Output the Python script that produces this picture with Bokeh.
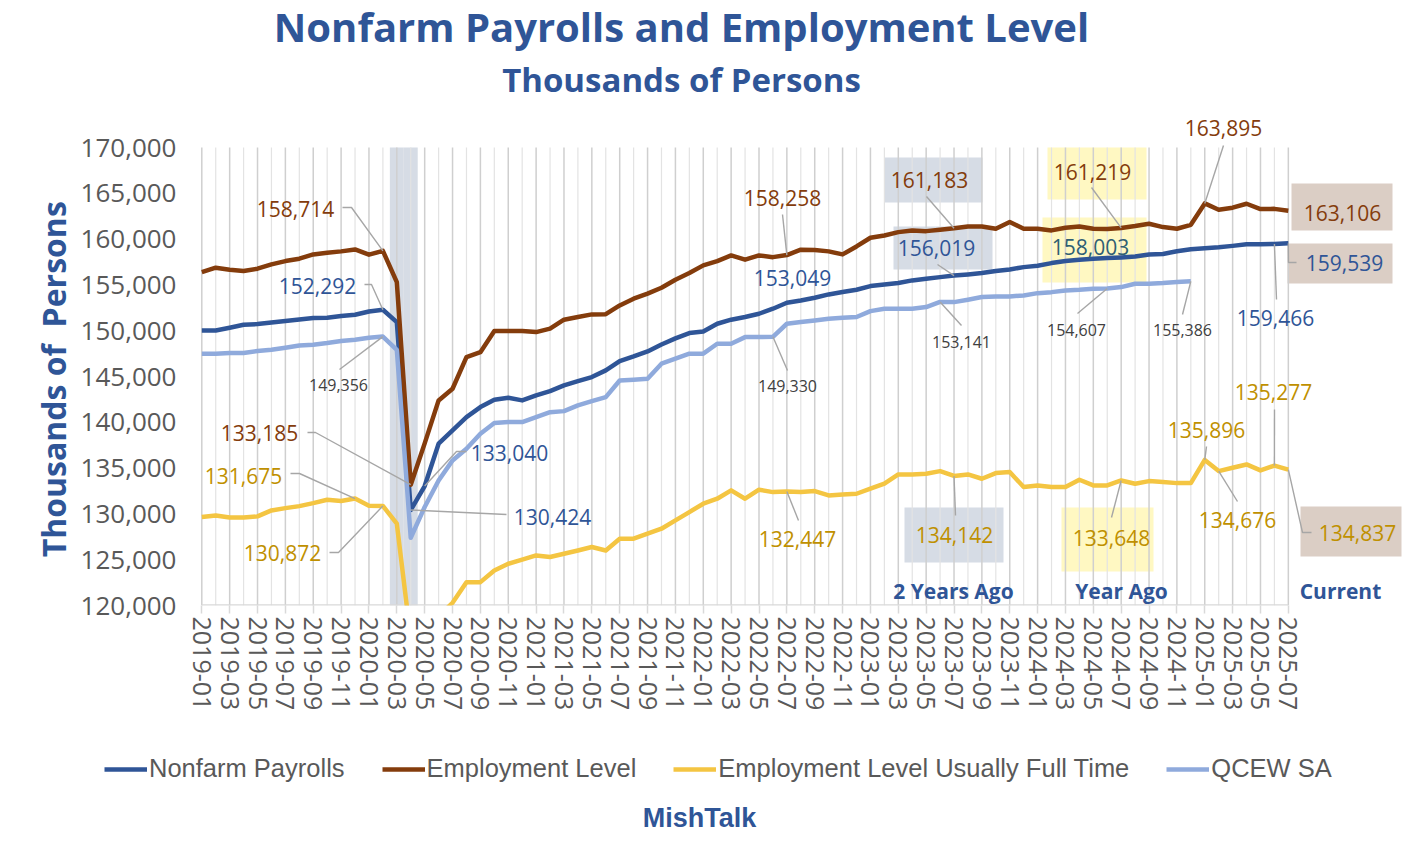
import numpy as np
from bokeh.plotting import figure
from bokeh.layouts import column, row
from bokeh.models import (ColumnDataSource, FixedTicker, NumeralTickFormatter,
                          Legend, LegendItem, Range1d)
from bokeh.core.properties import value
from bokeh.embed import file_html
from bokeh.resources import INLINE

# ---------------- data (thousands of persons) ----------------
months = [f"{y}-{m:02d}" for y in range(2019, 2026) for m in range(1, 13)][:79]

nonfarm = [150030, 150030, 150325, 150655, 150720, 150900, 151050, 151230, 151380, 151410,
           151600, 151740, 152100, 152292, 150940, 130424, 133040, 137660, 139110, 140570,
           141660, 142460, 142680, 142390, 142935, 143410, 144030, 144500, 144940, 145670,
           146680, 147190, 147740, 148500, 149160, 149740, 149920, 150760, 151200, 151490,
           151850, 152400, 153049, 153300, 153600, 153960, 154220, 154470, 154870, 155050,
           155200, 155490, 155670, 155850, 156019, 156145, 156290, 156510, 156690, 156940,
           157090, 157380, 157600, 157750, 157850, 157930, 158003, 158090, 158310, 158380,
           158670, 158890, 159000, 159110, 159260, 159430, 159440, 159466, 159539]

employment = [156400, 156880, 156660, 156510, 156770, 157240, 157600, 157860, 158330, 158510,
              158660, 158870, 158300, 158714, 155310, 133185, 137700, 142390, 143660, 147120,
              147660, 149960, 149960, 149960, 149850, 150220, 151200, 151490, 151780, 151800,
              152760, 153490, 154040, 154690, 155560, 156290, 157130, 157600, 158220, 157750,
              158220, 158030, 158258, 158840, 158800, 158660, 158330, 159200, 160150, 160400,
              160760, 160950, 160870, 161020, 161183, 161380, 161380, 161130, 161860, 161130,
              161130, 160950, 161240, 161380, 161130, 161090, 161219, 161420, 161680, 161310,
              161130, 161560, 163895, 163210, 163430, 163860, 163280, 163300, 163106]

full_time = [129650, 129830, 129600, 129600, 129730, 130380, 130630, 130850, 131180, 131550,
             131400, 131675, 130900, 130872, 128930, 116400, 117500, 118800, 120300, 122550,
             122550, 123830, 124560, 125000, 125470, 125290, 125650, 126010, 126380, 126010,
             127290, 127290, 127840, 128380, 129290, 130200, 131110, 131660, 132570, 131660,
             132640, 132380, 132447, 132380, 132490, 132020, 132130, 132200, 132750, 133300,
             134310, 134310, 134390, 134670, 134142, 134310, 133840, 134460, 134570, 132930,
             133110, 132930, 132930, 133730, 133110, 133110, 133648, 133290, 133580, 133470,
             133360, 133360, 135896, 134676, 135040, 135400, 134750, 135277, 134837]

qcew_sa = [147490, 147490, 147560, 147560, 147780, 147920, 148140, 148390, 148470, 148650,
           148870, 149010, 149230, 149356, 147900, 127400, 130750, 133650, 135840, 137120,
           138750, 139920, 140030, 140030, 140570, 141110, 141220, 141840, 142310, 142750,
           144570, 144650, 144760, 146400, 146940, 147490, 147490, 148580, 148580, 149300,
           149300, 149330, 150760, 150940, 151120, 151300, 151410, 151490, 152140, 152400,
           152400, 152400, 152580, 153141, 153120, 153380, 153670, 153740, 153740, 153850,
           154100, 154210, 154400, 154470, 154580, 154607, 154760, 155130, 155130, 155200,
           155310, 155386] + [np.nan] * 7

recession_months = ["2020-03", "2020-04"]
y_ticks = [120000, 125000, 130000, 135000, 140000, 145000, 150000, 155000, 160000, 165000, 170000]
series_names = ["Nonfarm Payrolls", "Employment Level", "Employment Level Usually Full Time", "QCEW SA"]

series = {"nfp": nonfarm, "emp": employment, "ft": full_time, "qc": qcew_sa}
idx = list(range(len(months)))

# ---------------- styling ----------------
BLUE = "#2F5597"
BROWN = "#843C0C"
GOLD_LINE = "#F4C542"
LIGHT = "#8FAADC"
LINE_COLORS = [BLUE, BROWN, GOLD_LINE, LIGHT]
BROWN_T = "#843C0C"
BLUE_T = "#2F5597"
TEAL_T = "#2F5F74"
GOLD_T = "#BF9000"
GRAY_T = "#404040"
LEAD = "#A6A6A6"
FONT = "Open Sans"
W = 1411

# page-pixel -> data helpers (layout of annotations only)
PX0, PXS = 202.3, 13.93
def dx(px):
    return (px - PX0) / PXS
def dy(py):
    return 170000 - (py - 148) * 50000 / 458

def blank(height, x0, x1, y0, y1, left, right):
    f = figure(width=W, height=height, output_backend="svg", toolbar_location=None,
               x_range=Range1d(x0, x1), y_range=Range1d(y1, y0),
               x_axis_location=None, y_axis_location=None,
               min_border=0, min_border_left=left, min_border_right=right,
               min_border_top=0, min_border_bottom=0)
    f.outline_line_color = None
    f.grid.visible = False
    return f

# ---------------- header ----------------
head = blank(110, 198, 1408, 1, 111, 197, 4)
head.text(x=[682, 682], y=[27, 80],
          text=["Nonfarm Payrolls and Employment Level", "Thousands of Persons"],
          text_font_size=["40px", "33px"], text_color=BLUE, text_font=value(FONT),
          text_font_style="bold", text_align="center", text_baseline="middle")

# ---------------- main chart ----------------
p = figure(width=W, height=607, output_backend="svg", toolbar_location=None,
           x_range=Range1d(dx(198), dx(1408)), y_range=Range1d(120000, dy(112)),
           min_border_left=197, min_border_right=4, min_border_top=1, min_border_bottom=112)
p.outline_line_color = None
p.xgrid.visible = False
p.ygrid.visible = False

rec_x = [months.index(m) for m in recession_months]
p.vbar(x=rec_x, width=1, bottom=120000, top=170000, fill_color="#D6DCE5", line_color=None)

# highlight boxes (2 years ago / year ago / current)
boxes = [(885, 983, 158, 203, "#D6DCE5"), (894, 993, 227, 270, "#D6DCE5"),
         (905, 1004, 508, 563, "#D6DCE5"),
         (1048, 1147, 148, 200, "#FFF8C2"), (1043, 1147, 218, 283, "#FFF8C2"),
         (1062, 1154, 508, 572, "#FFF8C2"),
         (1292, 1393, 184, 231, "#DBCEC5"), (1288, 1393, 244, 284, "#DBCEC5"),
         (1301, 1402, 507, 557, "#DBCEC5")]
p.quad(left=[dx(b[0]) for b in boxes], right=[dx(b[1]) for b in boxes],
       top=[dy(b[2]) for b in boxes], bottom=[dy(b[3]) for b in boxes],
       fill_color=[b[4] for b in boxes], line_color=None)

major = idx[::2]
minor = idx[1::2]
p.segment(x0=major, y0=[120000] * len(major), x1=major, y1=[170000] * len(major),
          line_color="#CFCFCF", line_width=1.5)
p.segment(x0=minor, y0=[120000] * len(minor), x1=minor, y1=[170000] * len(minor),
          line_color="#E3E3E3", line_width=1.2)
p.segment(x0=[idx[0]], y0=[120000], x1=[idx[-1]], y1=[120000], line_color="#D9D9D9", line_width=2.5)

src = ColumnDataSource(dict(x=idx, nfp=nonfarm, emp=employment, ft=full_time, qc=qcew_sa))
for col, colr in zip(["nfp", "emp", "ft", "qc"], LINE_COLORS):
    p.line("x", col, source=src, line_color=colr, line_width=4.5, line_join="round")

ann = [
    ("158,714", 296, 209, BROWN_T, 21, "emp", 13, [(343, 208), (352, 208)]),
    ("152,292", 318, 286, BLUE_T, 21, "nfp", 13, [(365, 285), (372, 285)]),
    ("149,356", 339, 385, GRAY_T, 16, "qc", 13, [(340, 370)]),
    ("133,185", 260, 433, BROWN_T, 21, "emp", 15, [(308, 433), (316, 433)]),
    ("131,675", 244, 476, GOLD_T, 21, "ft", 11, [(291, 474), (300, 474)]),
    ("130,872", 283, 553, GOLD_T, 21, "ft", 13, [(330, 553), (339, 553)]),
    ("133,040", 510, 453, BLUE_T, 21, "nfp", 16, [(467, 452), (457, 452)]),
    ("130,424", 553, 517, BLUE_T, 21, "nfp", 15, [(507, 515)]),
    ("158,258", 783, 198, BROWN_T, 21, "emp", 42, [(783, 215)]),
    ("153,049", 793, 278, BLUE_T, 21, None, None, []),
    ("149,330", 788, 386, GRAY_T, 16, "qc", 41, [(788, 371)]),
    ("132,447", 798, 539, GOLD_T, 21, "ft", 42, [(799, 521)]),
    ("161,183", 930, 180, BROWN_T, 21, "emp", 54, [(927, 197)]),
    ("156,019", 937, 248, BLUE_T, 21, "nfp", 54, [(938, 265)]),
    ("153,141", 962, 342, GRAY_T, 16, "qc", 53, [(962, 326)]),
    ("134,142", 955, 535, GOLD_T, 21, "ft", 54, [(956, 516)]),
    ("161,219", 1093, 172, BROWN_T, 21, "emp", 66, [(1092, 188)]),
    ("158,003", 1091, 247, TEAL_T, 21, None, None, []),
    ("154,607", 1077, 330, GRAY_T, 16, "qc", 65, [(1078, 314)]),
    ("155,386", 1183, 330, GRAY_T, 16, "qc", 71, [(1183, 315)]),
    ("133,648", 1112, 538, GOLD_T, 21, "ft", 66, [(1112, 518)]),
    ("163,895", 1224, 128, BROWN_T, 21, "emp", 72, [(1224, 146)]),
    ("163,106", 1343, 213, BROWN_T, 21, None, None, []),
    ("159,539", 1345, 263, BLUE_T, 21, "nfp", 78, [(1297, 263), (1289, 263)]),
    ("159,466", 1276, 318, BLUE_T, 21, "nfp", 77, [(1277, 300)]),
    ("135,277", 1274, 392, GOLD_T, 21, "ft", 77, [(1275, 410)]),
    ("135,896", 1207, 430, GOLD_T, 21, "ft", 72, [(1207, 447)]),
    ("134,676", 1238, 520, GOLD_T, 21, "ft", 73, [(1238, 502)]),
    ("134,837", 1358, 533, GOLD_T, 21, "ft", 78, [(1312, 533), (1303, 533)]),
]

lx, ly = [], []
for a in ann:
    if a[5] is None:
        continue
    pts = [(dx(u), dy(v)) for (u, v) in a[7]] + [(a[6], series[a[5]][a[6]])]
    lx.append([q[0] for q in pts])
    ly.append([q[1] for q in pts])
p.multi_line(xs=lx, ys=ly, line_color=LEAD, line_width=1.4)

tsrc = ColumnDataSource(dict(x=[dx(a[1]) for a in ann], y=[dy(a[2]) for a in ann],
                             text=[a[0] for a in ann], color=[a[3] for a in ann],
                             size=[f"{a[4]}px" for a in ann]))
p.text(x="x", y="y", text="text", source=tsrc, text_color="color", text_font_size="size",
       text_font=value(FONT), text_align="center", text_baseline="middle")

periods = [("2 Years Ago", 954, 591), ("Year Ago", 1122, 591), ("Current", 1341, 591)]
p.text(x=[dx(t[1]) for t in periods], y=[dy(t[2]) for t in periods], text=[t[0] for t in periods],
       text_color=BLUE_T, text_font_size="21px", text_font=value(FONT), text_font_style="bold",
       text_align="center", text_baseline="middle")

p.yaxis.ticker = FixedTicker(ticks=y_ticks)
p.yaxis.formatter = NumeralTickFormatter(format="0,0")
p.yaxis.axis_line_color = None
p.yaxis.major_tick_line_color = None
p.yaxis.minor_tick_line_color = None
p.yaxis.major_label_text_font = FONT
p.yaxis.major_label_text_font_size = "26px"
p.yaxis.major_label_text_color = "#595959"
p.yaxis.major_label_standoff = 15
p.yaxis.axis_label = "Thousands of\u00a0 Persons" + "\u00a0" * 5
p.yaxis.axis_label_text_font = FONT
p.yaxis.axis_label_text_font_size = "32px"
p.yaxis.axis_label_text_font_style = "bold"
p.yaxis.axis_label_text_color = BLUE
p.yaxis.axis_label_standoff = 3

p.xaxis.ticker = FixedTicker(ticks=major)
p.xaxis.major_label_overrides = {i: months[i] for i in major}
p.xaxis.major_label_orientation = "vertical"
p.xaxis.major_label_text_font = FONT
p.xaxis.major_label_text_font_size = "25px"
p.xaxis.major_label_text_color = "#595959"
p.xaxis.major_label_standoff = 3
p.xaxis.axis_line_color = None
p.xaxis.major_tick_line_color = "#D9D9D9"
p.xaxis.major_tick_line_width = 1.5
p.xaxis.major_tick_out = 8
p.xaxis.major_tick_in = 0
p.xaxis.minor_tick_line_color = None

# ---------------- footer: legend + credit ----------------
foot = blank(140, 1, W + 1, 718, 858, 0, 0)
keys = []
for name, colr in zip(series_names, LINE_COLORS):
    # legend keys only: drawn outside the visible range
    r = foot.line(x=[-100, -99], y=[-100, -100], line_color=colr, line_width=4.5)
    keys.append(LegendItem(label=name, renderers=[r]))
legend = Legend(items=keys, orientation="horizontal", location=(104, 74), glyph_width=43,
                glyph_height=20, label_standoff=2, spacing=37, padding=0, margin=0,
                border_line_color=None, background_fill_alpha=0,
                label_text_font="Liberation Sans", label_text_font_size="25.5px",
                label_text_color="#595959")
foot.add_layout(legend, "center")
foot.text(x=[700], y=[818], text=["MishTalk"], text_color=BLUE, text_font_size="27px",
          text_font=value("Liberation Sans"), text_font_style="bold",
          text_align="center", text_baseline="middle")

layout = column(head, p, row(foot), spacing=0)
open("out.html", "w").write(file_html(layout, INLINE))
